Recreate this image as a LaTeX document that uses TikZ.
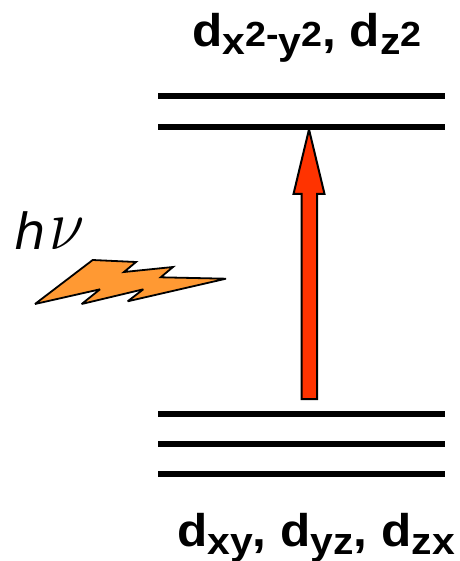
\documentclass[tikz,border=0pt]{standalone}
\usepackage{fontspec}
\usepackage{graphicx}
\setmainfont{Liberation Sans}
\newfontfamily\hnufont{DejaVu Sans}
\newcommand{\bigd}{\fontsize{46}{46}\selectfont\bfseries}
\newcommand{\lowtxt}[1]{\raisebox{-8bp}{\fontsize{38}{38}\selectfont\bfseries #1}}
\newcommand{\suptxt}[1]{{\fontsize{35}{35}\selectfont\bfseries #1}}
\tikzset{
  level/.style={line width=6bp,black},
  lbl/.style={inner sep=0pt,anchor=base west,text=black},
  wide/.style={xscale=1.08,transform shape},
}
\definecolor{arrowred}{RGB}{255,51,0}
\definecolor{boltorange}{RGB}{255,153,51}
\begin{document}
\begin{tikzpicture}[x=1bp,y=-1bp]
\useasboundingbox (0,0) rectangle (460,561);
\foreach \n/\y in {a/96,b/127,c/413.5,d/444,e/474}{
  \coordinate (\n l) at (158,\y);
  \coordinate (\n r) at (445,\y);
  \draw[level] (\n l) -- (\n r);
}
\draw[line width=2bp,fill=arrowred,miter limit=10]
  (309,129.5) -- (324.5,194) -- (317,194) -- (317,399) -- (301.5,399) -- (301.5,194) -- (293.5,194) -- cycle;
\draw[line width=1.8bp,fill=boltorange,line join=miter,miter limit=4]
  (35,304) -- (92.7,260) -- (136,262) -- (124,272) -- (173,267) -- (160.7,277.3) -- (226,278.7)
  -- (127.7,301.3) -- (143.3,289.3) -- (81.7,304) -- (100,289.3) -- cycle;
\node[lbl,wide] (top) at (192,47) {\bigd d\lowtxt{x}\suptxt{2-}\lowtxt{y}\suptxt{2}, d\lowtxt{z}\suptxt{2}};
\node[lbl,wide] (bot) at (177,546) {\bigd d\lowtxt{xy}, d\lowtxt{yz}, d\lowtxt{zx}};
\node[lbl] (hnu) at (14,249) {\hnufont\itshape\fontsize{50}{50}\selectfont h\hspace{4bp}\scalebox{2.6}[2.9]{$\nu$}};
\end{tikzpicture}
\end{document}
